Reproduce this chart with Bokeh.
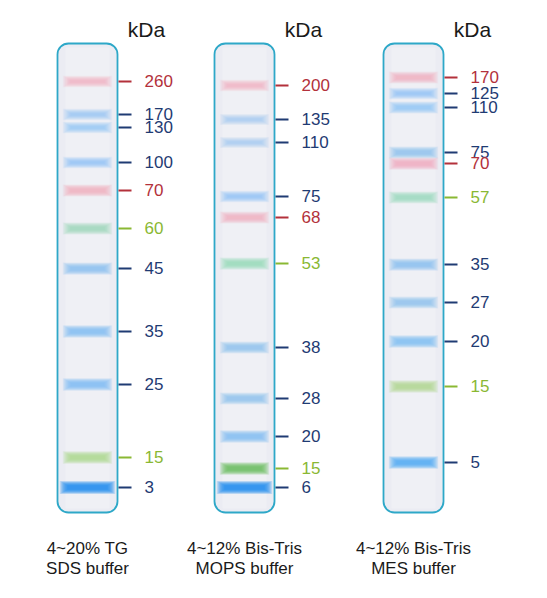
from bokeh.plotting import figure
from bokeh.models import Range1d, ColumnDataSource
from bokeh.core.properties import value
from bokeh.embed import file_html
from bokeh.resources import INLINE

# ---------------- data ----------------
lane_line1 = ["4~20% TG", "4~12% Bis-Tris", "4~12% Bis-Tris"]
lane_line2 = ["SDS buffer", "MOPS buffer", "MES buffer"]
unit_label = "kDa"

lane1_kda = ["260", "170", "130", "100", "70", "60", "45", "35", "25", "15", "3"]
lane1_pos = [81, 114, 127, 162, 190, 228, 268, 331, 384, 457, 487]
lane1_kind = ["r", "b", "b", "b", "r", "g", "b", "b", "b", "y", "d"]
lane1_int = [0.55, 0.45, 0.5, 0.55, 0.7, 0.65, 0.75, 0.8, 0.9, 0.85, 1.0]

lane2_kda = ["200", "135", "110", "75", "68", "53", "38", "28", "20", "15", "6"]
lane2_pos = [85, 119, 142, 196, 217, 263, 347, 398, 436, 468, 487]
lane2_kind = ["r", "b", "b", "b", "r", "g", "b", "b", "b", "G", "d"]
lane2_int = [0.55, 0.4, 0.4, 0.55, 0.6, 0.75, 0.65, 0.65, 0.8, 0.9, 1.0]

lane3_kda = ["170", "125", "110", "75", "70", "57", "35", "27", "20", "15", "5"]
lane3_pos = [77, 93, 107, 152, 163, 197, 264, 302, 341, 386, 462]
lane3_kind = ["r", "b", "b", "b", "r", "g", "b", "b", "b", "y", "B"]
lane3_int = [0.6, 0.55, 0.6, 0.65, 0.75, 0.7, 0.75, 0.65, 0.85, 0.8, 0.9]

lanes = [
    (lane1_kda, lane1_pos, lane1_kind, lane1_int),
    (lane2_kda, lane2_pos, lane2_kind, lane2_int),
    (lane3_kda, lane3_pos, lane3_kind, lane3_int),
]

# ---------------- layout / style ----------------
lane_cx = [87, 244, 413]
lane_w = 60
lane_top, lane_bottom = 43, 512
band_color = {"r": "#f2a6b8", "b": "#7cbcf2", "B": "#4aa8f0", "d": "#1a8cec",
              "g": "#8fd6b6", "G": "#62bd56", "y": "#a9d889"}
label_color = {"r": "#b3313b", "b": "#1f3b73", "B": "#1f3b73", "d": "#1f3b73",
               "g": "#8ab833", "G": "#8ab833", "y": "#8ab833"}
FONT = value("Liberation Sans")

p = figure(width=531, height=590, output_backend="svg", toolbar_location=None,
           x_range=Range1d(0, 531), y_range=Range1d(590, 0),
           min_border=0, outline_line_color=None)
p.axis.visible = False
p.grid.visible = False
p.background_fill_color = "white"
p.border_fill_color = "white"

# lane frames
p.quad(left=[c - lane_w / 2 for c in lane_cx], right=[c + lane_w / 2 for c in lane_cx],
       top=[lane_top] * 3, bottom=[lane_bottom] * 3, border_radius=11,
       fill_color="#ebecf3", line_color="#2ea8c8", line_width=1.8)
# lighter centre of lanes
p.quad(left=[c - lane_w / 2 + 8 for c in lane_cx], right=[c + lane_w / 2 - 8 for c in lane_cx],
       top=[lane_top + 4] * 3, bottom=[lane_bottom - 4] * 3,
       fill_color="#f3f4f8", fill_alpha=0.5, line_color=None)

# bands (blurred by stacked translucent rects)
bx, by, bw, bh, bc, ba = [], [], [], [], [], []
tx0, tx1, ty, tc = [], [], [], []
lx, ly, lt, lc = [], [], [], []
n_layers = 10
for i, (kda, pos, kind, inten) in enumerate(lanes):
    cx = lane_cx[i]
    right = cx + lane_w / 2
    for k, y, kd, it in zip(kda, pos, kind, inten):
        base_h = 1.0 + 3.0 * it
        base_w = 34 if kd != "d" else 40
        for layer in range(n_layers):
            bx.append(cx)
            by.append(y)
            bw.append(base_w + 1.7 * layer)
            bh.append(base_h + 1.0 * layer)
            bc.append(band_color[kd])
            ba.append(it * 0.18)
        tx0.append(right + 1)
        tx1.append(right + 14)
        ty.append(y)
        tc.append(label_color[kd])
        lx.append(right + 27)
        ly.append(y - 1)
        lt.append(k)
        lc.append(label_color[kd])

p.rect(x="x", y="y", width="w", height="h", fill_color="c", fill_alpha="a", line_color=None,
       source=ColumnDataSource(dict(x=bx, y=by, w=bw, h=bh, c=bc, a=ba)))
p.segment(x0="x0", x1="x1", y0="y", y1="y", line_color="c", line_width=2,
          source=ColumnDataSource(dict(x0=tx0, x1=tx1, y=ty, c=tc)))
p.text(x="x", y="y", text="t", text_color="c", text_font=FONT, text_font_size="17px",
       text_align="left", text_baseline="middle",
       source=ColumnDataSource(dict(x=lx, y=ly, t=lt, c=lc)))

# unit labels
p.text(x=[c + 59 for c in lane_cx], y=[29] * 3, text=[unit_label] * 3, text_color="#1a1a1a",
       text_font=FONT, text_font_size="21px", text_align="center", text_baseline="middle")

# captions
p.text(x=lane_cx, y=[548] * 3, text=lane_line1, text_color="#1a1a1a", text_font=FONT,
       text_font_size="17px", text_align="center", text_baseline="middle")
p.text(x=lane_cx, y=[568] * 3, text=lane_line2, text_color="#1a1a1a", text_font=FONT,
       text_font_size="17px", text_align="center", text_baseline="middle")

open("out.html", "w").write(file_html(p, INLINE))
